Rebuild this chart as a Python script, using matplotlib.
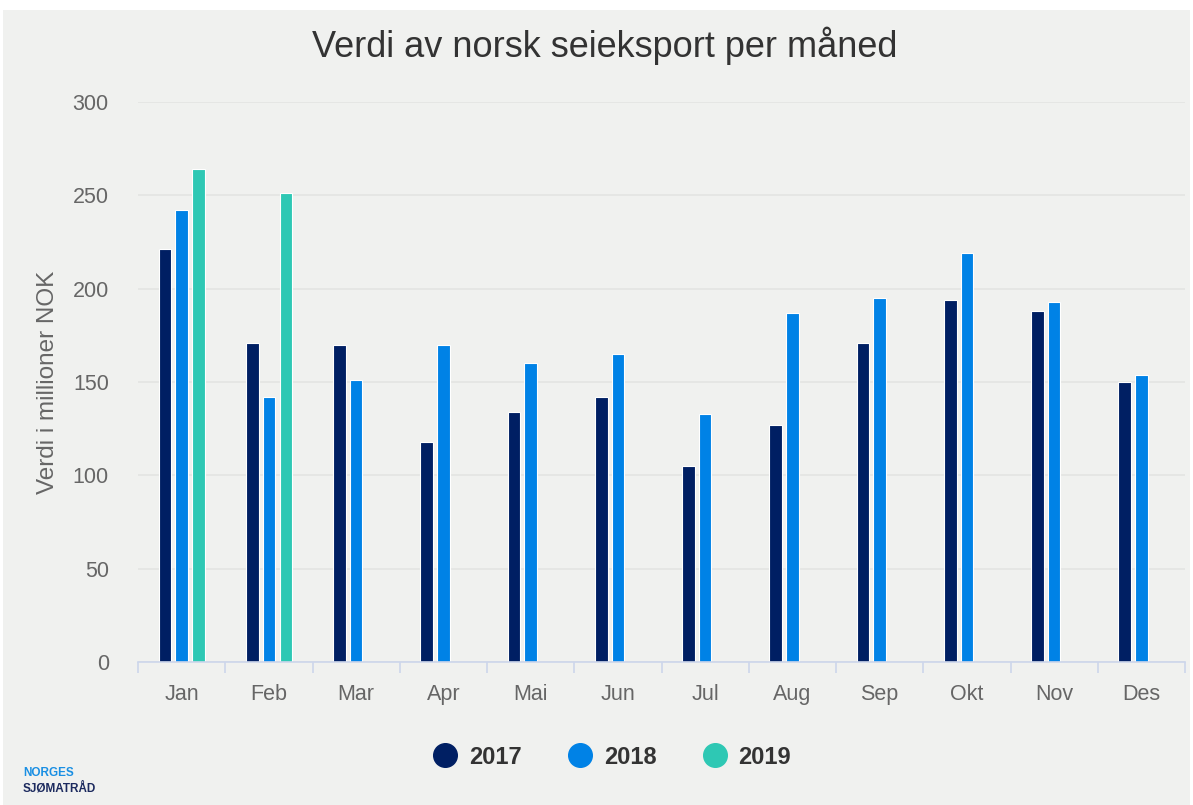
import numpy as np
import matplotlib.pyplot as plt
from matplotlib.patches import Rectangle

plt.rcParams['font.family'] = ['Liberation Sans', 'DejaVu Sans']

# data (million NOK)
months = ['Jan', 'Feb', 'Mar', 'Apr', 'Mai', 'Jun', 'Jul', 'Aug', 'Sep', 'Okt', 'Nov', 'Des']
years = ['2017', '2018', '2019']
v2017 = [221, 171, 170, 118, 134, 142, 105, 127, 171, 194, 188, 150]
v2018 = [242, 142, 151, 170, 160, 165, 133, 187, 195, 219, 193, 154]
v2019 = [264, 251]

colors = ['#001f63', '#0082e6', '#2ec8b4']
bg = '#f0f1ef'

fig = plt.figure(figsize=(11.93, 8.05), dpi=100, facecolor='white')
fig.patches.append(Rectangle((3 / 1193, 0), 1187 / 1193, 795 / 805,
                             transform=fig.transFigure, facecolor=bg,
                             edgecolor='none', zorder=-10))

ax = fig.add_axes([138 / 1193, 1 - 662 / 805, 1047 / 1193, 560 / 805])
ax.set_facecolor('none')

x = np.arange(len(months))
width = 0.145
offsets = [-0.19, 0.0, 0.195]
series = [v2017, v2018, v2019]
for vals, off, col, lab in zip(series, offsets, colors, years):
    xs = x[:len(vals)] + off
    ax.bar(xs, vals, width=width, color=col, edgecolor='white', linewidth=0.8,
           label=lab, zorder=3)

ax.set_xlim(-0.5, 11.5)
ax.set_ylim(0, 300)
ax.set_yticks(np.arange(0, 301, 50))
ax.grid(axis='y', color='#e3e4e2', linewidth=1.2, zorder=0)
ax.grid(axis='x', visible=False)

for s in ['top', 'right', 'left']:
    ax.spines[s].set_visible(False)
ax.spines['bottom'].set_color('#ccd6eb')
ax.spines['bottom'].set_linewidth(1.2)
ax.spines['bottom'].set_zorder(4)

ax.set_xticks(x)
ax.set_xticklabels(months)
ax.set_xticks(np.arange(-0.5, 12, 1), minor=True)
ax.tick_params(axis='x', which='major', length=0, pad=16, labelsize=15.5, labelcolor='#666666')
ax.tick_params(axis='x', which='minor', length=8, width=1.2, color='#ccd6eb')
ax.tick_params(axis='y', length=0, pad=21, labelsize=15.5, labelcolor='#666666')

ax.set_ylabel('Verdi i millioner NOK', fontsize=17.5, color='#666666', labelpad=10)

fig.text(605 / 1193, 1 - 46 / 805, 'Verdi av norsk seieksport per måned', ha='center', va='center',
         fontsize=26, color='#333333')

handles = [plt.Line2D([], [], marker='o', linestyle='none', markersize=17,
                      markerfacecolor=c, markeredgecolor=c) for c in colors]
leg = fig.legend(handles, years, loc='center', bbox_to_anchor=(610 / 1193, 1 - 757 / 805),
                 ncol=3, frameon=False, handlelength=1.4, handletextpad=0.3,
                 columnspacing=1.78, prop={'size': 17, 'weight': 'bold'})
for t in leg.get_texts():
    t.set_color('#333333')

fig.text(23 / 1193, 1 - 773 / 805, 'NORGES', fontsize=8.5, fontweight='bold', color='#1a8fe3',
         va='center', ha='left')
fig.text(23 / 1193, 1 - 788 / 805, 'SJØMATRÅD', fontsize=8.5, fontweight='bold', color='#1c2a5e',
         va='center', ha='left')

fig.savefig('out.png', dpi=100, facecolor=fig.get_facecolor())
